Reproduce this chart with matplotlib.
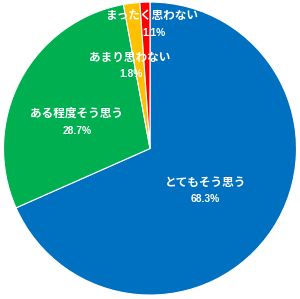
import matplotlib
matplotlib.use("Agg")
import matplotlib.pyplot as plt

plt.rcParams["font.family"] = ["Noto Sans CJK JP", "DejaVu Sans"]

LABELS = ["とてもそう思う", "ある程度そう思う", "あまり思わない", "まったく思わない"]
VALUES = [68.3, 28.7, 1.8, 1.1]
COLORS = ["#0070C0", "#00B050", "#FFC000", "#FF0000"]
# label anchor (name, percent) in pie units, centre = (0, 0), radius = 1
NAME_POS = [(0.38, -0.23), (-0.50, 0.24), (-0.14, 0.62), (0.01, 0.91)]
PCT_POS = [(0.38, -0.345), (-0.50, 0.12), (-0.13, 0.51), (0.03, 0.79)]

fig = plt.figure(figsize=(3.0, 2.99), dpi=100)
ax = fig.add_axes([0, 0, 1, 1])
ax.pie(VALUES, colors=COLORS, startangle=90, counterclock=False,
       wedgeprops=dict(edgecolor="white", linewidth=0.8))
for lab, v, (nx, ny), (px, py) in zip(LABELS, VALUES, NAME_POS, PCT_POS):
    ax.text(nx, ny, lab, ha="center", va="center", color="white",
            fontsize=8.4, fontweight="bold")
    ax.text(px, py, f"{v:.1f}%", ha="center", va="center", color="white",
            fontsize=7.4, fontweight="bold", family=["Liberation Sans", "DejaVu Sans"])
ax.set_aspect("auto")
ax.set_xlim(-1.024, 1.024)
ax.set_ylim(-1.027, 1.014)
ax.axis("off")
fig.savefig("out.png", dpi=100)
